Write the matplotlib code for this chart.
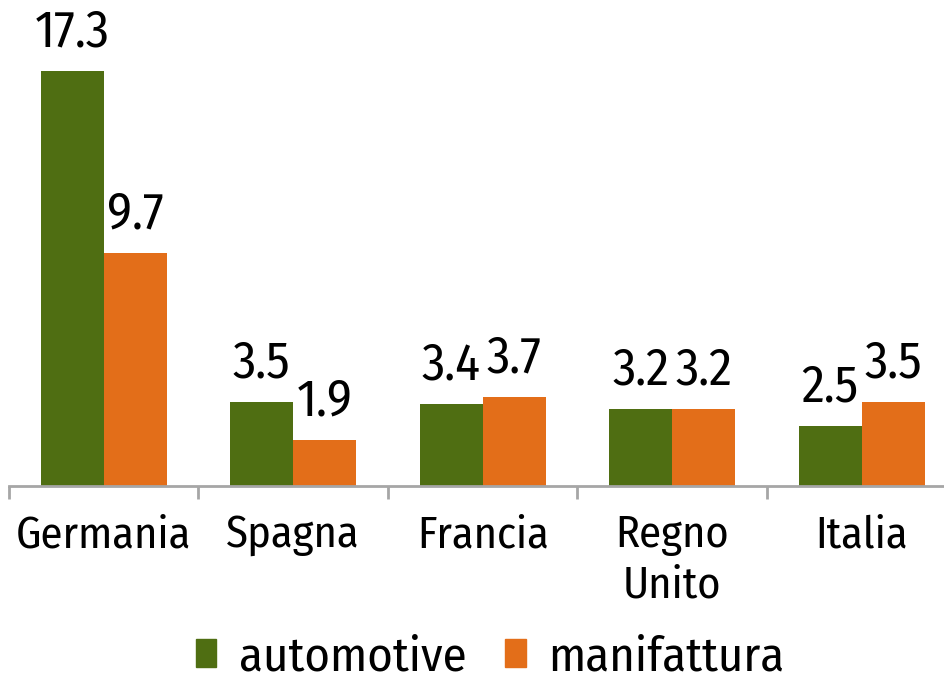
import matplotlib
matplotlib.use('Agg')
import matplotlib.pyplot as plt
from matplotlib.patches import Patch
import numpy as np

categories = ['Germania', 'Spagna', 'Francia', 'Regno\nUnito', 'Italia']
automotive = [17.3, 3.5, 3.4, 3.2, 2.5]
manifattura = [9.7, 1.9, 3.7, 3.2, 3.5]
series_names = ['automotive', 'manifattura']

GREEN = '#4f6e12'
ORANGE = '#e36e19'
AXIS_GREY = '#a6a6a6'

plt.rcParams['font.family'] = ['Fira Sans Condensed', 'DejaVu Sans']

W, H = 945, 684
fig = plt.figure(figsize=(W / 100, H / 100), dpi=100)
ax = fig.add_axes([9 / W, (H - 486) / H, 947.5 / W, 415 / H])

x = np.arange(len(categories))
bw = 1 / 3
b1 = ax.bar(x - bw / 2, automotive, bw, color=GREEN)
b2 = ax.bar(x + bw / 2, manifattura, bw, color=ORANGE)

for bars, vals in ((b1, automotive), (b2, manifattura)):
    for rect, v in zip(bars, vals):
        ax.annotate(f'{v:.1f}', (rect.get_x() + rect.get_width() / 2, v),
                    xytext=(0, 18), textcoords='offset points',
                    ha='center', va='baseline', fontsize=37, annotation_clip=False)

ax.set_xlim(-0.5, len(categories) - 0.5)
ax.set_ylim(0, 17.3)
ax.set_yticks([])
for s in ['top', 'right', 'left']:
    ax.spines[s].set_visible(False)
ax.spines['bottom'].set_color(AXIS_GREY)
ax.spines['bottom'].set_linewidth(2)

ax.set_xticks(x)
ax.set_xticklabels(categories, fontsize=32, linespacing=1.25)
ax.tick_params(axis='x', which='major', length=0, pad=20)
ax.set_xticks(np.arange(-0.5, len(categories)), minor=True)
ax.tick_params(axis='x', which='minor', length=9, width=2, color=AXIS_GREY)

handles = [Patch(color=GREEN), Patch(color=ORANGE)]
fig.legend(handles, series_names, loc='center', bbox_to_anchor=(490 / W, 1 - 657 / H),
           ncol=2, frameon=False, fontsize=35, handlelength=0.42, handleheight=0.52,
           handletextpad=0.46, columnspacing=0.8, borderaxespad=0, borderpad=0)

fig.savefig('out.png', dpi=100)
